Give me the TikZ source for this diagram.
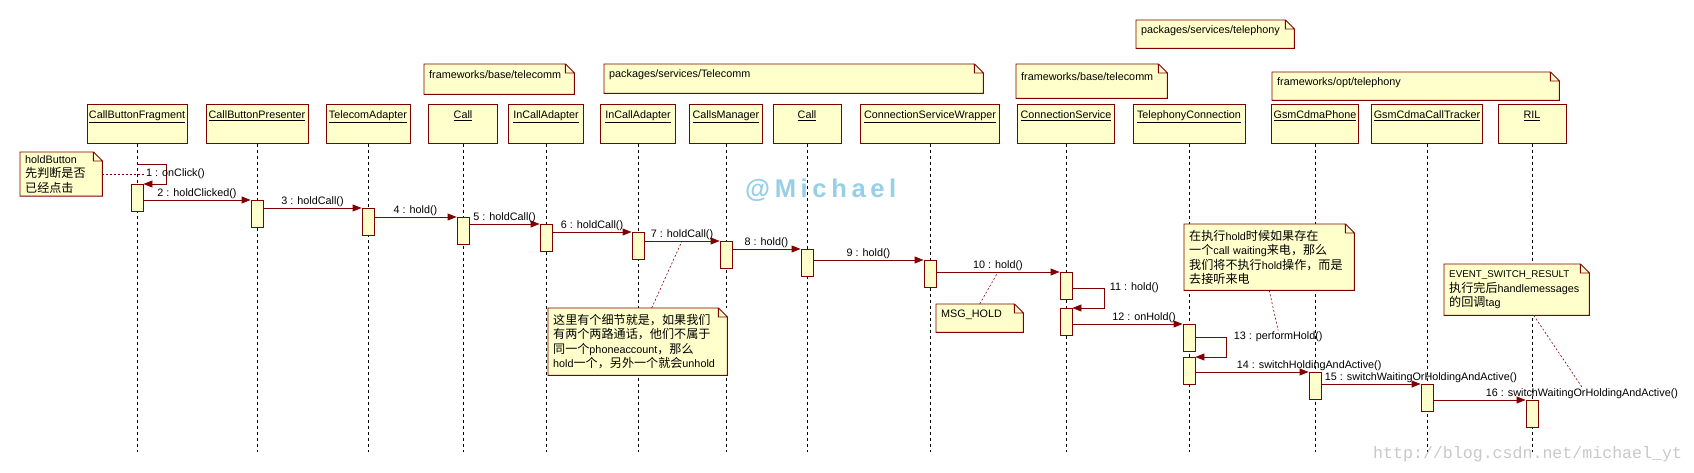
\documentclass[tikz,border=0pt]{standalone}
\usepackage{fontspec}
\setmainfont{Liberation Sans}
\newfontfamily\cjkfont[Scale=1.12]{Noto Sans CJK SC}
\newfontfamily\markfont[LetterSpace=18]{Liberation Sans}
\newfontfamily\urlfont{Liberation Mono}
\usetikzlibrary{arrows.meta}
\definecolor{umlbg}{RGB}{255,255,204}
\definecolor{umlred}{RGB}{128,0,0}
\definecolor{markblue}{RGB}{150,208,230}
\definecolor{urlgray}{RGB}{200,200,200}
\newcommand{\cj}[1]{{\cjkfont #1}}
\newcommand{\objname}[1]{\underline{#1}}
\newcommand{\foldnote}[1]{%
	\fill[white] ([xshift=-9pt]#1.north east) -- (#1.north east) -- ([yshift=-9pt]#1.north east) -- cycle;
	\draw[umlred, line width=0.9pt] (#1.north west) -- ([xshift=-9pt]#1.north east) -- ([yshift=-9pt]#1.north east) -- (#1.south east) -- (#1.south west) -- cycle
		([xshift=-9pt]#1.north east) |- ([yshift=-9pt]#1.north east);}

\begin{document}
\begin{tikzpicture}[x=1pt, y=-1pt, font=\fontsize{10.8}{12.5}\selectfont,
	objbox/.style={draw=umlred, fill=umlbg, line width=0.9pt, anchor=north, minimum height=39pt, inner xsep=2pt, inner ysep=4pt, text height=10pt, text depth=21pt},
	actbox/.style={draw=umlred, fill=umlbg, line width=0.9pt, anchor=north, minimum width=12pt, minimum height=27pt, inner sep=0pt},
	lifeline/.style={line width=0.8pt, dash pattern=on 3pt off 3pt},
	msg/.style={draw=umlred, line width=0.9pt, -{Triangle[length=9pt,width=7pt]}},
	msglbl/.style={inner sep=1pt},
	notebox/.style={fill=umlbg, anchor=north west, align=left, inner xsep=5pt, inner ysep=3pt, font=\fontsize{10.8}{14.5}\selectfont},
	pkgnote/.style={notebox, text height=7.5pt, text depth=9pt},
	noteconn/.style={draw=umlred, line width=0.6pt, dash pattern=on 2pt off 2pt}]
	\useasboundingbox (0,0) rectangle (1694,473);

	\node[objbox, minimum width=100pt] (cbf) at (137,104) {\objname{CallButtonFragment}};
	\node[objbox, minimum width=102pt] (cbp) at (257,104) {\objname{CallButtonPresenter}};
	\node[objbox, minimum width=84pt] (tadp) at (368,104) {\objname{TelecomAdapter}};
	\node[objbox, minimum width=69pt] (call) at (463,104) {\objname{Call}};
	\node[objbox, minimum width=75pt] (ica) at (546,104) {\objname{InCallAdapter}};
	\node[objbox, minimum width=75pt] (icas) at (638,104) {\objname{InCallAdapter}};
	\node[objbox, minimum width=73pt] (cmgr) at (726,104) {\objname{CallsManager}};
	\node[objbox, minimum width=68pt] (calls) at (807,104) {\objname{Call}};
	\node[objbox, minimum width=139pt] (csw) at (930,104) {\objname{ConnectionServiceWrapper}};
	\node[objbox, minimum width=97pt] (cs) at (1066,104) {\objname{ConnectionService}};
	\node[objbox, minimum width=112pt] (tc) at (1189,104) {\objname{TelephonyConnection}};
	\node[objbox, minimum width=85pt] (gcp) at (1315,104) {\objname{GsmCdmaPhone}};
	\node[objbox, minimum width=108pt] (gcct) at (1427,104) {\objname{GsmCdmaCallTracker}};
	\node[objbox, minimum width=68pt] (ril) at (1532,104) {\objname{RIL}};

	\draw[lifeline] (cbf.south) -- (cbf.south |- 0,452);
	\draw[lifeline] (cbp.south) -- (cbp.south |- 0,452);
	\draw[lifeline] (tadp.south) -- (tadp.south |- 0,452);
	\draw[lifeline] (call.south) -- (call.south |- 0,452);
	\draw[lifeline] (ica.south) -- (ica.south |- 0,452);
	\draw[lifeline] (icas.south) -- (icas.south |- 0,452);
	\draw[lifeline] (cmgr.south) -- (cmgr.south |- 0,452);
	\draw[lifeline] (calls.south) -- (calls.south |- 0,452);
	\draw[lifeline] (csw.south) -- (csw.south |- 0,452);
	\draw[lifeline] (cs.south) -- (cs.south |- 0,452);
	\draw[lifeline] (tc.south) -- (tc.south |- 0,452);
	\draw[lifeline] (gcp.south) -- (gcp.south |- 0,452);
	\draw[lifeline] (gcct.south) -- (gcct.south |- 0,452);
	\draw[lifeline] (ril.south) -- (ril.south |- 0,452);

	\node[pkgnote, text width=140pt, minimum height=30pt] (basenote) at (424,64) {frameworks/base/telecomm};
	\foldnote{basenote}
	\node[pkgnote, text width=369pt, minimum height=29pt] (svcnote) at (604,64) {packages/services/Telecomm};
	\foldnote{svcnote}
	\node[pkgnote, text width=141pt, minimum height=34pt] (basenotetwo) at (1016,64) {frameworks/base/telecomm};
	\foldnote{basenotetwo}
	\node[pkgnote, text width=148pt, minimum height=28pt] (telnote) at (1136,20) {packages/services/telephony};
	\foldnote{telnote}
	\node[pkgnote, text width=277pt, minimum height=28pt] (optnote) at (1272,72) {frameworks/opt/telephony};
	\foldnote{optnote}
	\node[notebox, text width=72pt, minimum height=42pt] (holdnote) at (20,152) {holdButton\\\cj{先判断是否}\\\cj{已经点击}};
	\foldnote{holdnote}
	\node[notebox, text width=169pt, minimum height=67pt] (detailnote) at (548,308) {\cj{这里有个细节就是，如果我们}\\\cj{有两个两路通话，他们不属于}\\\cj{同一个}phoneaccount\cj{，那么}\\hold\cj{一个，另外一个就会}unhold};
	\foldnote{detailnote}
	\node[pkgnote, text width=77pt, minimum height=28pt] (msghold) at (936,304) {MSG\_HOLD};
	\foldnote{msghold}
	\node[notebox, text width=160pt, minimum height=66pt] (waitnote) at (1184,224) {\cj{在执行}hold\cj{时候如果存在}\\\cj{一个}call waiting\cj{来电，那么}\\\cj{我们将不执行}hold\cj{操作，而是}\\\cj{去接听来电}};
	\foldnote{waitnote}
	\node[notebox, text width=135pt, minimum height=51pt] (eventnote) at (1444,264) {{\fontsize{9.8}{14.5}\selectfont EVENT\_SWITCH\_RESULT}\\\cj{执行完后}handlemessages\\\cj{的回调}tag};
	\foldnote{eventnote}

	\node[actbox] (a1) at (cbf.south |- 0,184) {};
	\node[actbox] (a2) at (cbp.south |- 0,200) {};
	\node[actbox] (a3) at (tadp.south |- 0,208) {};
	\node[actbox] (a4) at (call.south |- 0,217) {};
	\node[actbox] (a5) at (ica.south |- 0,224) {};
	\node[actbox] (a6) at (icas.south |- 0,232) {};
	\node[actbox] (a7) at (cmgr.south |- 0,241) {};
	\node[actbox] (a8) at (calls.south |- 0,249) {};
	\node[actbox] (a9) at (csw.south |- 0,260) {};
	\node[actbox] (a10) at (cs.south |- 0,272) {};
	\node[actbox] (a11) at (cs.south |- 0,308) {};
	\node[actbox] (a12) at (tc.south |- 0,324) {};
	\node[actbox] (a13) at (tc.south |- 0,357) {};
	\node[actbox] (a14) at (gcp.south |- 0,372) {};
	\node[actbox] (a15) at (gcct.south |- 0,384) {};
	\node[actbox] (a16) at (ril.south |- 0,400) {};

	\draw[msg] (cbf.south |- 0,164) -- ++(29,0) |- (a1.north east);
	\node[msglbl, anchor=west] (m1) at (145,174) {1 : onClick()};
	\draw[msg] (a1.east |- a2.north) -- node[msglbl, above] (m2) {2 : holdClicked()} (a2.north west);
	\draw[msg] (a2.east |- a3.north) -- node[msglbl, above] (m3) {3 : holdCall()} (a3.north west);
	\draw[msg] (a3.east |- a4.north) -- node[msglbl, above] (m4) {4 : hold()} (a4.north west);
	\draw[msg] (a4.east |- a5.north) -- node[msglbl, above] (m5) {5 : holdCall()} (a5.north west);
	\draw[msg] (a5.east |- a6.north) -- node[msglbl, above] (m6) {6 : holdCall()} (a6.north west);
	\draw[msg] (a6.east |- a7.north) -- node[msglbl, above] (m7) {7 : holdCall()} (a7.north west);
	\draw[msg] (a7.east |- a8.north) -- node[msglbl, above] (m8) {8 : hold()} (a8.north west);
	\draw[msg] (a8.east |- a9.north) -- node[msglbl, above] (m9) {9 : hold()} (a9.north west);
	\draw[msg] (a9.east |- a10.north) -- node[msglbl, above] (m10) {10 : hold()} (a10.north west);
	\draw[msg] (a10.east |- 0,288) -- ++(32,0) node[msglbl, anchor=west, xshift=4pt] (m11) {11 : hold()} |- (a11.north east);
	\draw[msg] (a11.east |- a12.north) -- node[msglbl, above, pos=0.65] (m12) {12 : onHold()} (a12.north west);
	\draw[msg] (a12.east |- 0,337) -- ++(31,0) node[msglbl, anchor=west, xshift=6pt] (m13) {13 : performHold()} |- (a13.north east);
	\draw[msg] (a13.east |- a14.north) -- node[msglbl, at start, anchor=south west, xshift=40pt] (m14) {14 : switchHoldingAndActive()} (a14.north west);
	\draw[msg] (a14.east |- a15.north) -- node[msglbl, at start, anchor=south west, xshift=2pt] (m15) {15 : switchWaitingOrHoldingAndActive()} (a15.north west);
	\draw[msg] (a15.east |- a16.north) -- node[msglbl, at start, anchor=south west, xshift=51pt] (m16) {16 : switchWaitingOrHoldingAndActive()} (a16.north west);

	\draw[noteconn] (holdnote.east |- m1) -- (m1.west);
	\draw[noteconn] ([xshift=14pt]detailnote.north) -- (m7.south);
	\draw[noteconn] (msghold.north) -- (m10.south);
	\draw[noteconn] (waitnote.south) -- (m13.north);
	\draw[noteconn] ([xshift=17pt]eventnote.south) -- (m16.north);

	\node[anchor=base west, inner sep=0pt, text=markblue, font={\markfont\bfseries\fontsize{25.6}{30}\selectfont}] (mark) at (745,197) {@Michael};
	\node[anchor=base west, inner sep=0pt, text=urlgray, font={\urlfont\fontsize{16.6}{20}\selectfont}] (url) at (1373,458) {http://blog.csdn.net/michael\_yt};
\end{tikzpicture}
\end{document}
